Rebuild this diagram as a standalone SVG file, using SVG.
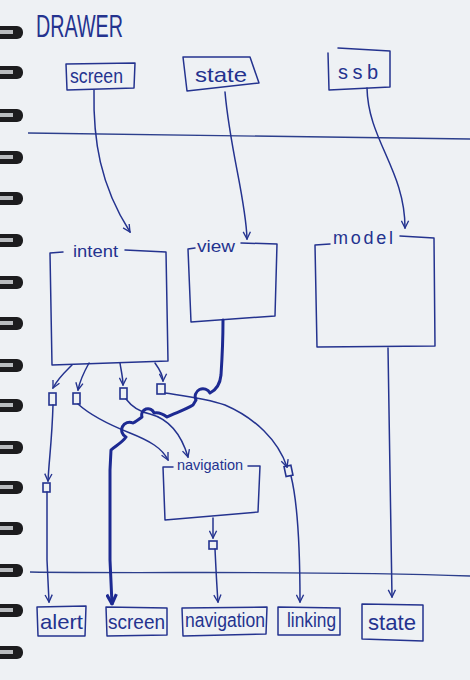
<svg xmlns="http://www.w3.org/2000/svg" width="470" height="680" viewBox="0 0 470 680">
<defs>
<style>
.ink{fill:none;stroke:#24338f;stroke-width:1.5;stroke-linecap:round;stroke-linejoin:round}
.thick{fill:none;stroke:#1d2a92;stroke-width:3;stroke-linecap:round;stroke-linejoin:round}
.sq{fill:none;stroke:#24338f;stroke-width:1.6}
.t{font-family:"Liberation Sans","DejaVu Sans",sans-serif;fill:#24338f}
.rule{fill:none;stroke:#2c3f8c;stroke-width:1.4}
.ring{fill:#1c1c1e}
.hl{fill:#b9bcbf}
</style>
<marker id="ah" viewBox="0 0 10 10" refX="9" refY="5" markerWidth="9" markerHeight="9" markerUnits="userSpaceOnUse" orient="auto">
<path d="M1,1 L9,5 L1,9" fill="none" stroke="#24338f" stroke-width="1.5"/>
</marker>
<marker id="ahb" viewBox="0 0 10 10" refX="9" refY="5" markerWidth="12" markerHeight="12" markerUnits="userSpaceOnUse" orient="auto">
<path d="M1,1 L9,5 L1,9" fill="none" stroke="#1d2a92" stroke-width="2.6"/>
</marker>
</defs>
<rect width="470" height="680" fill="#eef1f4"/>
<g id="binding">
<rect class="ring" x="-6" y="26" width="29" height="13" rx="6"/><rect class="hl" x="0" y="30" width="13" height="4"/>
<rect class="ring" x="-6" y="66" width="29" height="13" rx="6"/><rect class="hl" x="0" y="70" width="13" height="4"/>
<rect class="ring" x="-6" y="109" width="29" height="13" rx="6"/><rect class="hl" x="0" y="113" width="13" height="4"/>
<rect class="ring" x="-6" y="151" width="29" height="13" rx="6"/><rect class="hl" x="0" y="155" width="13" height="4"/>
<rect class="ring" x="-6" y="192" width="29" height="13" rx="6"/><rect class="hl" x="0" y="196" width="13" height="4"/>
<rect class="ring" x="-6" y="234" width="29" height="13" rx="6"/><rect class="hl" x="0" y="238" width="13" height="4"/>
<rect class="ring" x="-6" y="276" width="29" height="13" rx="6"/><rect class="hl" x="0" y="280" width="13" height="4"/>
<rect class="ring" x="-6" y="317" width="29" height="13" rx="6"/><rect class="hl" x="0" y="321" width="13" height="4"/>
<rect class="ring" x="-6" y="359" width="29" height="13" rx="6"/><rect class="hl" x="0" y="363" width="13" height="4"/>
<rect class="ring" x="-6" y="399" width="29" height="13" rx="6"/><rect class="hl" x="0" y="403" width="13" height="4"/>
<rect class="ring" x="-6" y="441" width="29" height="13" rx="6"/><rect class="hl" x="0" y="445" width="13" height="4"/>
<rect class="ring" x="-6" y="481" width="29" height="13" rx="6"/><rect class="hl" x="0" y="485" width="13" height="4"/>
<rect class="ring" x="-6" y="522" width="29" height="13" rx="6"/><rect class="hl" x="0" y="526" width="13" height="4"/>
<rect class="ring" x="-6" y="564" width="29" height="13" rx="6"/><rect class="hl" x="0" y="568" width="13" height="4"/>
<rect class="ring" x="-6" y="604" width="29" height="13" rx="6"/><rect class="hl" x="0" y="608" width="13" height="4"/>
<rect class="ring" x="-6" y="646" width="29" height="13" rx="6"/><rect class="hl" x="0" y="650" width="13" height="4"/>
</g>
<text class="t" x="36" y="37" font-size="31" textLength="87" lengthAdjust="spacingAndGlyphs">DRAWER</text>
<path class="rule" d="M28,133 C150,134 300,136 470,139"/>
<path class="rule" d="M30,572 C150,574 300,570 470,576"/>
<g id="in-screen"><path class="ink" d="M66,64 L135,63 L134,88 L67,90 Z"/><text class="t" x="70" y="83" font-size="20" textLength="53" lengthAdjust="spacingAndGlyphs">screen</text></g>
<g id="in-state"><path class="ink" d="M183,57 L250,57 L259,83 L187,91 Z"/><text class="t" x="195" y="82" font-size="21" textLength="52" lengthAdjust="spacingAndGlyphs">state</text></g>
<g id="in-ssb"><path class="ink" d="M338,48 L390,51 L390,87 L329,90 L328,53"/><text class="t" x="338" y="79" font-size="20" textLength="40" lengthAdjust="spacing">ssb</text></g>
<g id="intent"><path class="ink" d="M63,252 L50,253 L52,365 L168,361 L166,252 L125,250"/><text class="t" x="73" y="257" font-size="17" textLength="45" lengthAdjust="spacingAndGlyphs">intent</text></g>
<g id="view"><path class="ink" d="M195,248 L188,249 L191,322 L275,316 L277,244 L241,243"/><text class="t" x="197" y="252" font-size="17" textLength="38" lengthAdjust="spacingAndGlyphs">view</text></g>
<g id="model"><path class="ink" d="M330,244 L315,245 L317,347 L435,346 L434,238 L400,236"/><text class="t" x="333" y="244" font-size="18" textLength="60" lengthAdjust="spacing">model</text></g>
<g id="navigation-mid"><path class="ink" d="M173,467 L163,467 L165,520 L258,512 L260,466 L248,466"/><text class="t" x="177" y="470" font-size="15" textLength="66" lengthAdjust="spacingAndGlyphs">navigation</text></g>
<g id="out-alert"><path class="ink" d="M37,607 L86,606 L85,636 L38,636 Z"/><text class="t" x="40" y="629" font-size="21" textLength="43" lengthAdjust="spacingAndGlyphs">alert</text></g>
<g id="out-screen"><path class="ink" d="M106,607 L167,608 L167,635 L107,636 Z"/><text class="t" x="108" y="629" font-size="21" textLength="57" lengthAdjust="spacingAndGlyphs">screen</text></g>
<g id="out-navigation"><path class="ink" d="M182,608 L267,607 L266,634 L183,636 Z"/><text class="t" x="185" y="627" font-size="20" textLength="80" lengthAdjust="spacingAndGlyphs">navigation</text></g>
<g id="out-linking"><path class="ink" d="M278,607 L340,608 L340,635 L278,635 Z"/><text class="t" x="287" y="627" font-size="20" textLength="49" lengthAdjust="spacingAndGlyphs">linking</text></g>
<g id="out-state"><path class="ink" d="M362,604 L423,605 L423,641 L362,639 Z"/><text class="t" x="368" y="630" font-size="22" textLength="48" lengthAdjust="spacingAndGlyphs">state</text></g>
<g id="connectors">
<path class="ink" marker-end="url(#ah)" d="M94,90 C93,140 100,185 130,232"/>
<path class="ink" marker-end="url(#ah)" d="M225,92 C230,150 246,200 247,239"/>
<path class="ink" marker-end="url(#ah)" d="M367,88 C368,140 405,170 405,228"/>
<path class="ink" marker-end="url(#ah)" d="M72,365 C65,372 58,378 53,388"/>
<path class="ink" marker-end="url(#ah)" d="M89,363 C84,372 80,380 78,390"/>
<path class="ink" marker-end="url(#ah)" d="M120,363 C121,370 123,378 123,385"/>
<path class="ink" marker-end="url(#ah)" d="M155,363 C160,370 163,375 163,381"/>
<rect class="sq" x="49" y="393" width="7" height="12"/>
<rect class="sq" x="73" y="393" width="7" height="11"/>
<rect class="sq" x="120" y="388" width="7" height="11"/>
<rect class="sq" x="157" y="384" width="8" height="10"/>
<path class="ink" marker-end="url(#ah)" d="M53,405 C52,440 49,460 48,481"/>
<rect class="sq" x="43" y="483" width="7" height="9"/>
<path class="ink" marker-end="url(#ah)" d="M47,492 L47,560 L49,602"/>
<path class="ink" marker-end="url(#ah)" d="M78,404 C90,415 110,425 130,433 C150,441 162,448 168,460"/>
<path class="ink" marker-end="url(#ah)" d="M126,399 C132,407 140,412 150,414 C165,418 180,430 188,457"/>
<path class="ink" marker-end="url(#ah)" d="M165,393 C185,396 205,398 225,405 C255,418 278,440 287,467"/>
<rect class="sq" x="285" y="466" width="7" height="10" transform="rotate(-12 288 471)"/>
<path class="ink" marker-end="url(#ah)" d="M291,476 C297,500 300,540 300,602"/>
<path class="ink" marker-end="url(#ah)" d="M213,518 L213,538"/>
<rect class="sq" x="209" y="541" width="8" height="8"/>
<path class="ink" marker-end="url(#ah)" d="M215,549 C216,570 217,590 218,602"/>
<path class="ink" marker-end="url(#ah)" d="M388,348 C389,420 390,500 392,597"/>
<path class="thick" marker-end="url(#ahb)" d="M223,320 C223,340 222,360 221,375 C220,385 216,390 210,393 A7,7 0 0 0 196,400 L193,405 C185,410 175,413 167,417 C163,414 158,412 154,413 A6,6 0 0 0 142,417 C138,420 135,422 133,423 A7,7 0 0 0 126,437 C122,443 115,446 111,450 L110,470 L110,560 L112,604"/>
</g>
</svg>
